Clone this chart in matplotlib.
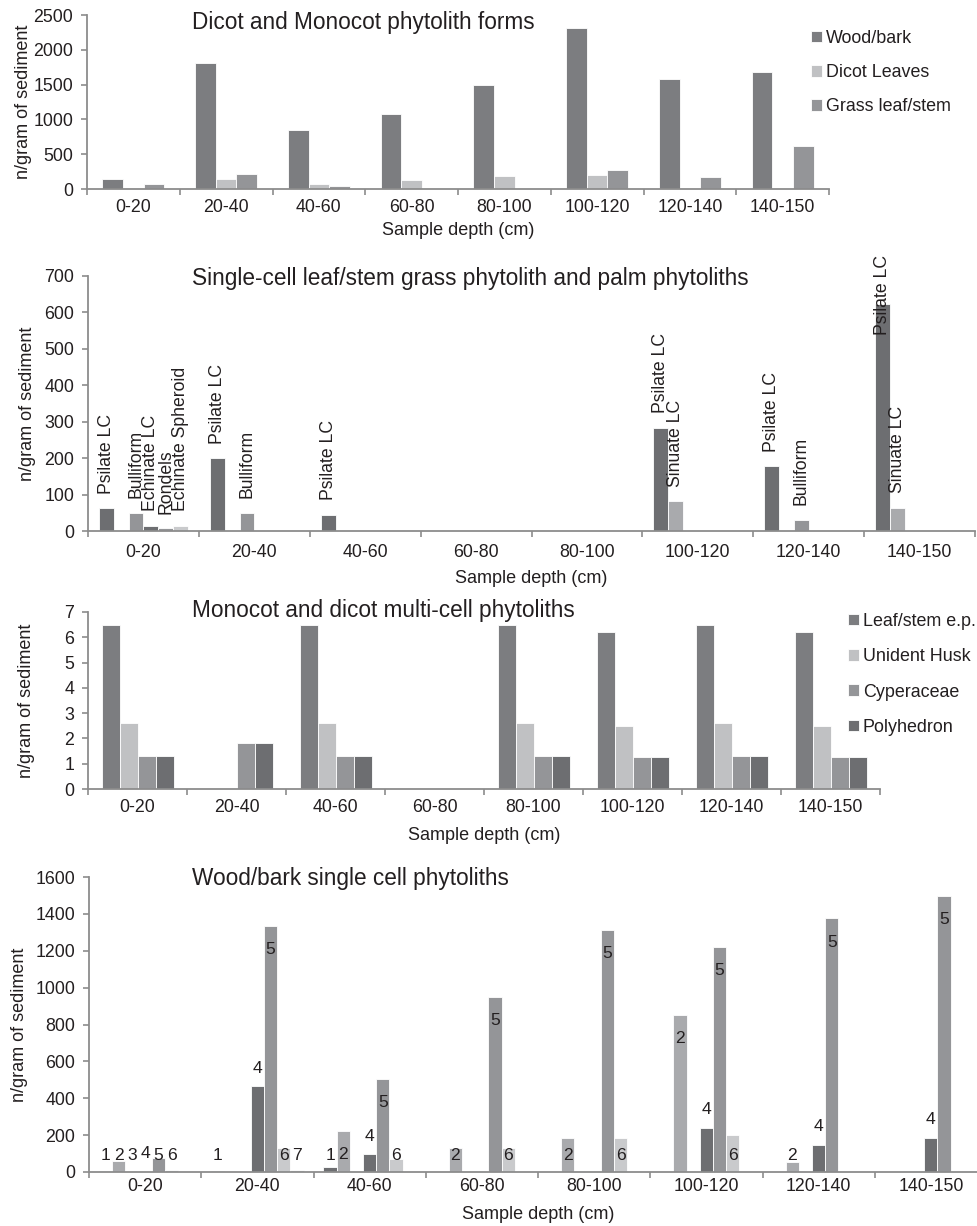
import numpy as np
import matplotlib
matplotlib.use("Agg")
import matplotlib.pyplot as plt
import matplotlib.transforms as mtransforms

plt.rcParams['font.family'] = ['Liberation Sans', 'DejaVu Sans']

nan = np.nan

# === Datos ===
depths = ['0-20', '20-40', '40-60', '60-80', '80-100', '100-120', '120-140', '140-150']

# Panel 1: Dicot and Monocot phytolith forms
forms_names = ['Wood/bark', 'Dicot Leaves', 'Grass leaf/stem']
wood_bark = [145, 1815, 850, 1080, 1490, 2320, 1580, 1685]
dicot_leaves = [15, 145, 72, 130, 182, 200, 0, 0]
grass_leaf_stem = [67, 211, 45, 0, 0, 278, 177, 618]

# Panel 2: single-cell grass / palm
single_names = ['Psilate LC', 'Sinuate LC', 'Bulliform', 'Echinate LC', 'Rondels', 'Echinate Spheroid']
psilate_lc = [62, 200, 44, nan, nan, 284, 178, 622]
sinuate_lc = [nan, nan, nan, nan, nan, 82, nan, 63]
bulliform = [50, 50, nan, nan, nan, nan, 30, nan]
echinate_lc = [15, nan, nan, nan, nan, nan, nan, nan]
rondels = [8, nan, nan, nan, nan, nan, nan, nan]
echinate_spheroid = [15, nan, nan, nan, nan, nan, nan, nan]

# Panel 3: multi-cell
multi_names = ['Leaf/stem e.p.', 'Unident Husk', 'Cyperaceae', 'Polyhedron']
leaf_stem_ep = [6.5, 0, 6.5, 0, 6.5, 6.2, 6.5, 6.2]
unident_husk = [2.6, 0, 2.6, 0, 2.6, 2.5, 2.6, 2.5]
cyperaceae = [1.3, 1.8, 1.3, 0, 1.3, 1.25, 1.3, 1.25]
polyhedron = [1.3, 1.8, 1.3, 0, 1.3, 1.25, 1.3, 1.25]

# Panel 4: wood/bark single cell (tipos 1-7)
wood_names = ['1', '2', '3', '4', '5', '6', '7']
wood_t1 = [7, 7, 29, nan, nan, nan, nan, nan]
wood_t2 = [58, nan, 222, 132, 183, 854, 56, nan]
wood_t3 = [0, nan, nan, nan, nan, nan, nan, nan]
wood_t4 = [0, 465, 95, nan, nan, 240, 146, 184]
wood_t5 = [75, 1335, 505, 950, 1310, 1220, 1375, 1495]
wood_t6 = [10, 132, 70, 132, 183, 200, nan, nan]
wood_t7 = [nan, 11, nan, nan, nan, nan, nan, nan]

# === Estilo ===
W, H, DPI = 977, 1226, 100
TEXT = '#231f20'
AXIS = '#8c8c8c'
DARK = '#6d6e71'
MID_DARK = '#7c7d80'
MID = '#949598'
LIGHT = '#a9aaad'
PALE = '#c0c1c3'
PALER = '#c9cacc'


def px_box(left, right, top, bottom):
    return [left / W, 1 - bottom / H, (right - left) / W, (bottom - top) / H]


fig = plt.figure(figsize=(W / DPI, H / DPI), dpi=DPI)


def style_axes(ax, ymax, ystep, xpad):
    n = len(depths)
    ax.set_xlim(-0.5, n - 0.5)
    ax.set_ylim(0, ymax)
    ax.set_yticks(np.arange(0, ymax + ystep / 2, ystep))
    ax.set_xticks(range(n))
    ax.set_xticklabels(depths)
    ax.set_xticks(np.arange(-0.5, n), minor=True)
    ax.tick_params(axis='x', which='major', length=0, pad=xpad, labelsize=12.8, labelcolor=TEXT)
    ax.tick_params(axis='x', which='minor', length=4, width=1.2, color=AXIS, direction='out')
    ax.tick_params(axis='y', length=4.5, width=1.2, color=AXIS, pad=5.5, labelsize=12.8, labelcolor=TEXT)
    for s in ['top', 'right']:
        ax.spines[s].set_visible(False)
    for s in ['left', 'bottom']:
        ax.spines[s].set_color(AXIS)
        ax.spines[s].set_linewidth(1.3)


def grouped_bars(ax, series, colors, names):
    n = len(series)
    w = 1.0 / (n + 1.5)
    x = np.arange(len(depths))
    out = []
    for i, (vals, c, name) in enumerate(zip(series, colors, names)):
        vals = np.asarray(vals, dtype=float)
        xs = x - n * w / 2 + (i + 0.5) * w
        ok = ~np.isnan(vals)
        ax.bar(xs[ok], vals[ok], width=w, color=c, edgecolor='white',
               linewidth=0.6, label=name)
        out.append((xs, vals))
    return out


def titles(ax, title, title_base, xlabel_base, ylabel_x):
    fig.text(192 / W, 1 - title_base / H, title, fontsize=16.3, color=TEXT, va='baseline')
    pos = ax.get_position()
    fig.text(pos.x0 + pos.width / 2, 1 - xlabel_base / H, 'Sample depth (cm)',
             fontsize=13, color=TEXT, ha='center', va='baseline')
    tr = mtransforms.blended_transform_factory(fig.transFigure, ax.transAxes)
    ax.text(ylabel_x / W, 0.5, 'n/gram of sediment', transform=tr, rotation=90,
            fontsize=13, color=TEXT, ha='center', va='center')


def legend(ax, left_px, top_px, spacing):
    ax.legend(loc='upper left', bbox_to_anchor=(left_px / W, 1 - top_px / H),
              bbox_transform=fig.transFigure, frameon=False, fontsize=12.9,
              handlelength=0.62, handleheight=0.62, handletextpad=0.2,
              labelspacing=spacing, borderpad=0, borderaxespad=0, labelcolor=TEXT)


# === Panel 1 ===
ax1 = fig.add_axes(px_box(87, 829, 15, 189))
style_axes(ax1, 2500, 500, 7)
grouped_bars(ax1, [wood_bark, dicot_leaves, grass_leaf_stem], [MID_DARK, PALE, MID], forms_names)
legend(ax1, 811, 30, 0.95)
titles(ax1, 'Dicot and Monocot phytolith forms', 29, 235, 24)

# === Panel 2 ===
ax2 = fig.add_axes(px_box(88, 975, 276, 531))
style_axes(ax2, 700, 100, 9)
single_series = [psilate_lc, sinuate_lc, bulliform, echinate_lc, rondels, echinate_spheroid]
placed = grouped_bars(ax2, single_series, [DARK, LIGHT, MID, DARK, MID, PALER], single_names)
for (xs, vals), name in zip(placed, single_names):
    for xv, v in zip(xs, vals):
        if np.isnan(v):
            continue
        if v > 500:
            # la etiqueta se saldria del grafico: se empuja hacia abajo
            ax2.text(xv, 758, name, rotation=90, ha='center', va='top',
                     fontsize=12.7, color=TEXT, clip_on=False)
        else:
            ax2.annotate(name, (xv, v), xytext=(0, 10.5), textcoords='offset points',
                         rotation=90, ha='center', va='bottom', fontsize=12.7, color=TEXT)
titles(ax2, 'Single-cell leaf/stem grass phytolith and palm phytoliths', 285, 583, 28)

# === Panel 3 ===
ax3 = fig.add_axes(px_box(88, 880, 612, 789))
style_axes(ax3, 7, 1, 7)
grouped_bars(ax3, [leaf_stem_ep, unident_husk, cyperaceae, polyhedron],
             [MID_DARK, PALE, MID, DARK], multi_names)
legend(ax3, 848, 613, 1.02)
titles(ax3, 'Monocot and dicot multi-cell phytoliths', 617, 840, 27)

# === Panel 4 ===
ax4 = fig.add_axes(px_box(89, 987, 877, 1172))
style_axes(ax4, 1600, 200, 4.5)
wood_series = [wood_t1, wood_t2, wood_t3, wood_t4, wood_t5, wood_t6, wood_t7]
placed = grouped_bars(ax4, wood_series, [DARK, LIGHT, MID, DARK, MID, PALER, PALER], wood_names)
for (xs, vals), name in zip(placed, wood_names):
    for xv, v in zip(xs, vals):
        if np.isnan(v):
            continue
        if name == '4':
            ly = v + 74
        else:
            ly = max(v - 152, 65)
        ax4.text(xv, ly, name, ha='center', va='baseline', fontsize=12.6, color=TEXT)
titles(ax4, 'Wood/bark single cell phytoliths', 885, 1219, 20)

fig.savefig('out.png', dpi=DPI)
